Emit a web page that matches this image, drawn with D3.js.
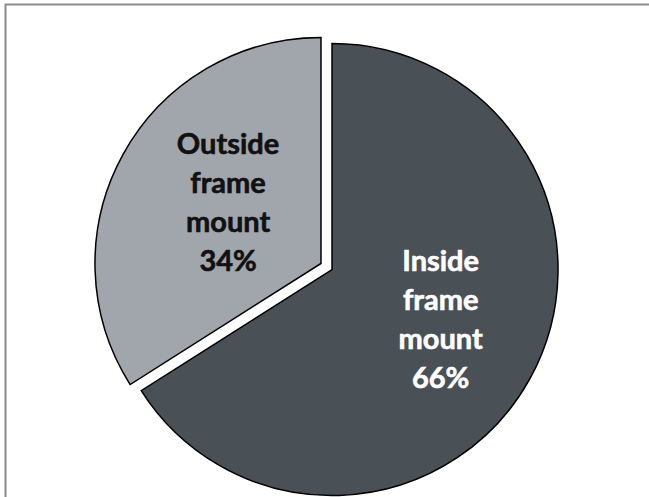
<!DOCTYPE html>
<html>
<head>
<meta charset="utf-8">
<script src="https://cdn.jsdelivr.net/npm/d3@7"></script>
<style>
  html, body { margin: 0; padding: 0; background: #ffffff; }
  svg { display: block; }
</style>
</head>
<body>
<svg id="chart" width="649" height="497"></svg>
<script>
// ---- data ----
const categories = ["Inside frame mount", "Outside frame mount"];
const values = [66, 34];
const percentLabels = ["66%", "34%"];
const sliceColors = ["#495056", "#a0a6ac"];
const labelColors = ["#ffffff", "#111111"];

// ---- layout ----
const W = 649, H = 497;
const cx = 326.5, cy = 266.5, R = 226;
const explode = 6.3;
const labelRadius = [124, 106];
const lineHeight = 39;

const svg = d3.select("#chart");

// chart border (cropped at right and bottom like the reference)
svg.append("rect")
  .attr("x", 5.5).attr("y", 4.5)
  .attr("width", W + 20).attr("height", H + 20)
  .attr("fill", "#ffffff")
  .attr("stroke", "#8c8c8c")
  .attr("stroke-width", 2);

const pie = d3.pie().sort(null).startAngle(0).endAngle(2 * Math.PI);
const arcs = pie(values);
const arc = d3.arc().innerRadius(0).outerRadius(R);

const g = svg.append("g").attr("transform", `translate(${cx},${cy})`);

const slices = g.selectAll("g.slice")
  .data(arcs)
  .enter().append("g")
  .attr("class", "slice")
  .attr("transform", d => {
    const a = (d.startAngle + d.endAngle) / 2;
    return `translate(${explode * Math.sin(a)},${-explode * Math.cos(a)})`;
  });

slices.append("path")
  .attr("d", arc)
  .attr("fill", (d, i) => sliceColors[i])
  .attr("stroke", "#000000")
  .attr("stroke-width", 1.5)
  .attr("stroke-linejoin", "miter");

slices.each(function(d, i) {
  const a = (d.startAngle + d.endAngle) / 2;
  const lx = labelRadius[i] * Math.sin(a);
  const ly = -labelRadius[i] * Math.cos(a);
  const lines = categories[i].split(" ").concat([percentLabels[i]]);
  const t = d3.select(this).append("text")
    .attr("x", lx)
    .attr("y", ly)
    .attr("text-anchor", "middle")
    .attr("font-family", "Lato, 'Open Sans', sans-serif")
    .attr("font-weight", "bold")
    .attr("font-size", 29)
    .attr("fill", labelColors[i])
    .attr("stroke", labelColors[i])
    .attr("stroke-width", 0.6);
  const n = lines.length;
  lines.forEach((ln, k) => {
    t.append("tspan")
      .attr("x", lx)
      .attr("y", ly + (k - (n - 1) / 2) * lineHeight)
      .text(ln);
  });
});
</script>
</body>
</html>
